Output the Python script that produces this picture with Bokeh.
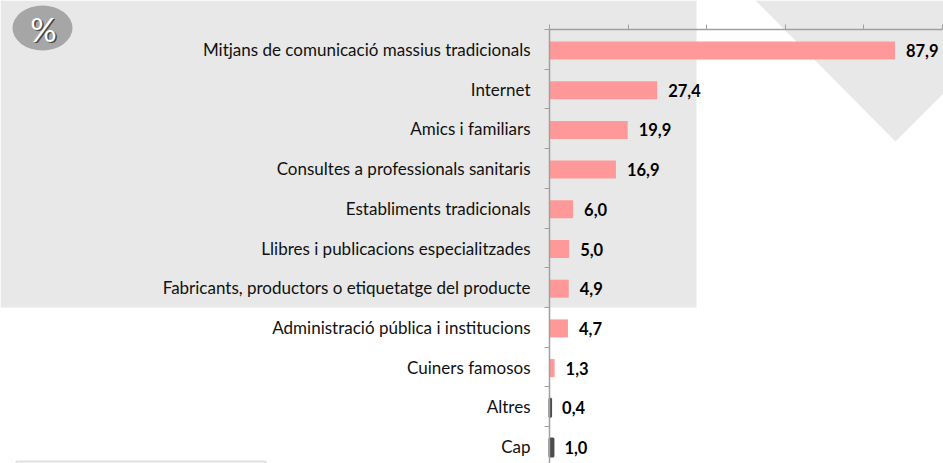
from bokeh.plotting import figure
from bokeh.models import (Range1d, LinearAxis, FixedTicker, ColumnDataSource, BoxAnnotation,
                          PolyAnnotation, Label, CustomLabelingPolicy)
from bokeh.core.properties import value
from bokeh.embed import file_html
from bokeh.resources import INLINE

categories = ["Mitjans de comunicació massius tradicionals", "Internet", "Amics i familiars",
              "Consultes a professionals sanitaris", "Establiments tradicionals",
              "Llibres i publicacions especialitzades", "Fabricants, productors o etiquetatge del producte",
              "Administració pública i institucions", "Cuiners famosos", "Altres", "Cap"]
values = [87.9, 27.4, 19.9, 16.9, 6.0, 5.0, 4.9, 4.7, 1.3, 0.4, 1.0]
value_labels = ["87,9", "27,4", "19,9", "16,9", "6,0", "5,0", "4,9", "4,7", "1,3", "0,4", "1,0"]
x_ticks = [0, 20, 40, 60, 80, 100]

PINK = "#ff9999"
DARK = "#4d4d4d"
GREY = "#e8e8e8"
AXIS = "#a0a0a0"
W, H = 943, 463
X0, PX = 549, 3.93       # screen x of zero, pixels per unit
Y0, ROW = 50, 39.7       # screen y of first row, pixels per row

no_labels = CustomLabelingPolicy(code="for (const i of indices) indices.unset(i); return indices;")

p = figure(width=W, height=H, output_backend="svg", toolbar_location=None,
           x_range=Range1d(-X0 / PX, (W - X0) / PX),
           y_range=Range1d((H - Y0) / ROW, -Y0 / ROW),
           x_axis_type=None, y_axis_type=None, min_border=0,
           outline_line_color=None, background_fill_color=None, border_fill_color="white")
p.grid.visible = False

p.add_layout(BoxAnnotation(left=0, right=696, top=H, bottom=H - 307, left_units="screen", right_units="screen",
                           top_units="screen", bottom_units="screen", fill_color=GREY, fill_alpha=1,
                           line_color=None, level="underlay"))
p.add_layout(PolyAnnotation(xs=[755, 895, 943, 943], ys=[H, H - 141, H - 93, H], xs_units="screen", ys_units="screen",
                            fill_color=GREY, fill_alpha=1, line_color=None, level="underlay"))
p.add_layout(BoxAnnotation(left=16, right=265, top=H - 461, bottom=-20, left_units="screen", right_units="screen",
                           top_units="screen", bottom_units="screen", fill_color="white", fill_alpha=1,
                           line_color="#999999", line_width=2))

rows = list(range(len(categories)))
top_y = (29 - Y0) / ROW
xa = LinearAxis(fixed_location=top_y, ticker=FixedTicker(ticks=x_ticks), major_label_policy=no_labels,
                axis_line_color=AXIS, axis_line_width=1.5, major_tick_line_color=AXIS, major_tick_line_width=1,
                major_tick_out=5, major_tick_in=0, minor_tick_line_color=None, bounds=(0, 100))
p.add_layout(xa, "above")
ya = LinearAxis(fixed_location=0, ticker=FixedTicker(ticks=[top_y + i for i in range(12)]),
                major_label_policy=no_labels, axis_line_color=AXIS, axis_line_width=1.5,
                major_tick_line_color=AXIS, major_tick_line_width=1, major_tick_out=5, major_tick_in=0,
                minor_tick_line_color=None, bounds=(top_y, (H - Y0) / ROW))
p.add_layout(ya, "left")

colors = [PINK] * 9 + [DARK] * 2
widths = [0] * 9 + [2] * 2
src = ColumnDataSource(dict(y=rows, v=values, c=colors, lw=widths, cat=categories, lab=value_labels,
                            zero=[0] * len(rows)))
p.hbar(y="y", left=0, right="v", height=18 / ROW, fill_color="c", line_color="c", line_width="lw", source=src)
p.text(x="zero", y="y", text="cat", source=src, x_offset=-19, y_offset=-1, text_align="right", text_baseline="middle",
       text_font=value("Lato"), text_font_size="17px", text_color="#111111")
p.text(x="v", y="y", text="lab", source=src, x_offset=11, text_align="left", text_baseline="middle",
       text_font=value("Lato"), text_font_size="16.5px", text_font_style="bold", text_color="#000000")

p.ellipse(x=[(42 - X0) / PX], y=[(27.5 - Y0) / ROW], width=60, height=45, width_units="screen", height_units="screen",
          fill_color="#a6a6a6", line_color=None)
p.add_layout(Label(x=44.5, y=H - 29, x_units="screen", y_units="screen", text="%", text_align="center",
                   text_baseline="middle", text_font="Lato", text_font_size="33px", text_color="#444444"))
p.add_layout(Label(x=43, y=H - 28, x_units="screen", y_units="screen", text="%", text_align="center",
                   text_baseline="middle", text_font="Lato", text_font_size="33px", text_color="white"))

open("out.html", "w").write(file_html(p, INLINE))
